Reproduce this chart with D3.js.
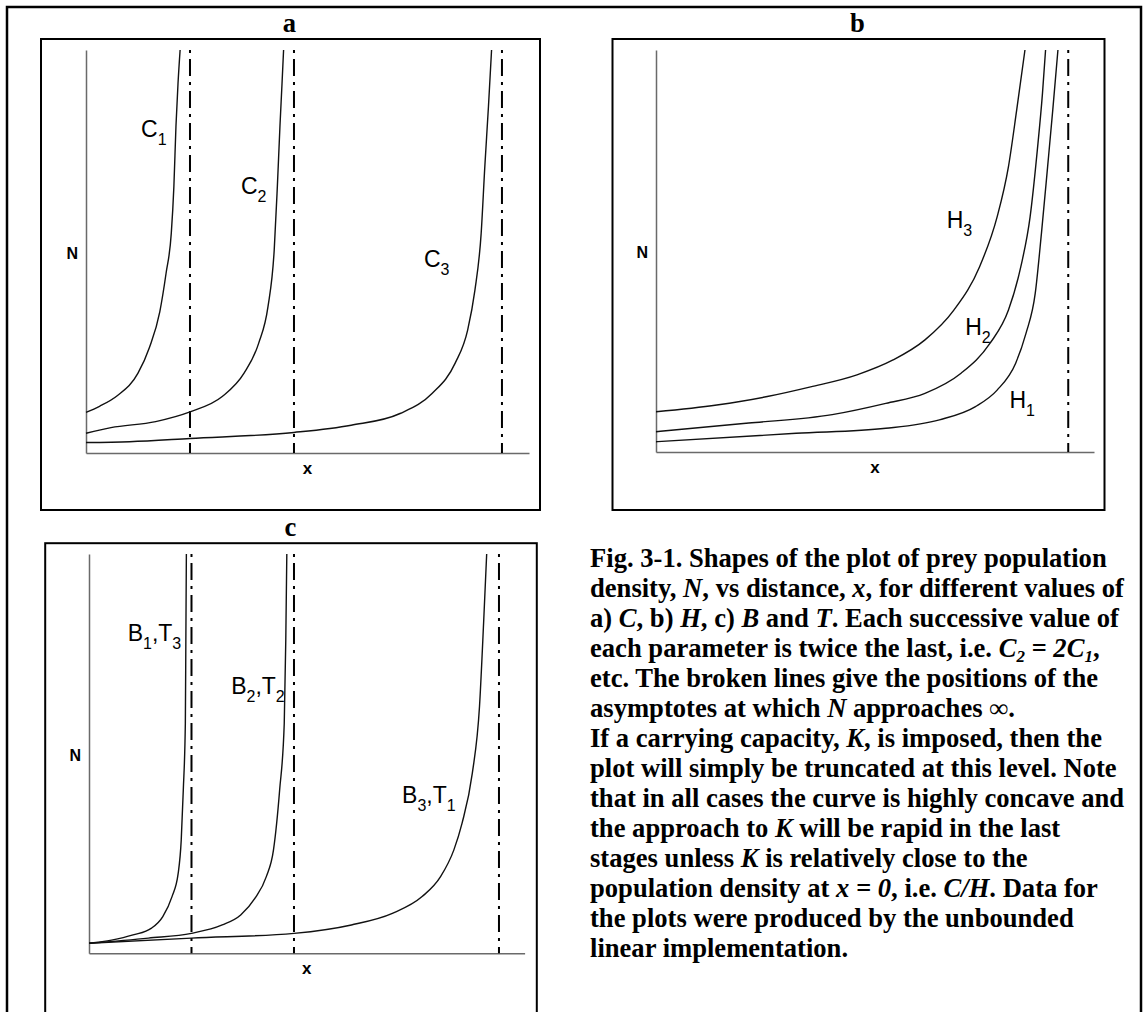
<!DOCTYPE html>
<html>
<head>
<meta charset="utf-8">
<script src="https://cdn.jsdelivr.net/npm/d3@7"></script>
<style>
  body { margin: 0; background: #fff; }
</style>
</head>
<body>
<div id="fig"></div>
<script>
// curve points: [x, N]
// x in units of the first asymptote, N in percent of the axis height
var curveC1 = [[0,10.1],[0.13,11.6],[0.30,14.2],[0.50,19.8],[0.61,26.2],[0.71,35.1],[0.77,44.6],[0.82,54.5],[0.845,66.1],[0.865,81.0],[0.885,91.8],[0.905,100]];
var curveC2 = [[0,4.9],[0.24,6.3],[0.67,7.8],[1.0,10.2],[1.31,14.0],[1.52,19.8],[1.66,27.2],[1.75,36.3],[1.81,50.4],[1.84,66.1],[1.865,81],[1.885,91.7],[1.90,100]];
var curveC3 = [[0,2.6],[0.42,2.8],[1.0,3.6],[2.0,5.1],[2.55,6.9],[3.02,9.8],[3.33,14.8],[3.55,22.3],[3.67,30.5],[3.74,40.4],[3.80,54.5],[3.835,71.0],[3.87,85.9],[3.90,100]];

var curveH3 = [[0,10.0],[0.59,11.7],[1.08,13.8],[1.50,16.2],[1.95,19.2],[2.30,22.9],[2.61,27.9],[2.89,35.3],[3.14,46.1],[3.31,58.5],[3.42,71.0],[3.50,85.1],[3.58,100]];
var curveH2 = [[0,5.05],[0.90,7.2],[1.71,9.3],[2.23,12.1],[2.61,14.6],[2.96,19.6],[3.24,27.0],[3.42,35.3],[3.54,46.1],[3.63,58.5],[3.70,75.1],[3.75,89.2],[3.78,100]];
var curveH1 = [[0,2.56],[1.36,4.65],[2.23,5.9],[2.75,8.0],[3.10,11.3],[3.31,15.4],[3.49,22.1],[3.59,29.5],[3.68,39.5],[3.74,54.4],[3.80,71.0],[3.85,85.1],[3.90,100]];

var curveB1T3 = [[0,2.5],[0.22,3.3],[0.43,4.6],[0.61,6.3],[0.72,9.2],[0.81,14.2],[0.87,20.0],[0.90,28.4],[0.92,40.9],[0.94,57.6],[0.945,78.5],[0.95,100]];
var curveB2T2 = [[0,2.5],[0.58,3.8],[1.0,5.0],[1.30,7.1],[1.48,9.6],[1.62,13.8],[1.73,19.2],[1.80,25.9],[1.86,40.9],[1.905,57.6],[1.92,78.5],[1.93,100]];
var curveB3T1 = [[0,2.5],[1.0,3.8],[2.0,5.0],[2.56,7.1],[2.96,10.0],[3.25,14.2],[3.43,19.2],[3.56,25.9],[3.64,32.6],[3.74,45.1],[3.81,61.8],[3.85,82.7],[3.88,100]];

// asymptote positions
var asymA = [1, 2, 4];
var asymB = [4];
var asymC = [1, 2, 4];

// curve labels: main letter(s) and subscripts, anchored in data units
var labelsA = [
  {parts: [["C", "1"]], x: 0.53, n: 78.3},
  {parts: [["C", "2"]], x: 1.49, n: 64.2},
  {parts: [["C", "3"]], x: 3.25, n: 46.2}
];
var labelsB = [
  {parts: [["H", "3"]], x: 2.82, n: 55.6},
  {parts: [["H", "2"]], x: 3.00, n: 29.1},
  {parts: [["H", "1"]], x: 3.43, n: 10.9}
];
var labelsC = [
  {parts: [["B", "1"], ["T", "3"]], x: 0.377, n: 78.3},
  {parts: [["B", "2"], ["T", "2"]], x: 1.387, n: 64.9},
  {parts: [["B", "3"], ["T", "1"]], x: 3.055, n: 37.7}
];

// caption lines: [text, style] with style 0 = bold, 1 = bold italic, 2 = italic subscript
var caption = [
  [["Fig. 3-1. Shapes of the plot of prey population", 0]],
  [["density, ", 0], ["N", 1], [", vs distance, ", 0], ["x", 1], [", for different values of", 0]],
  [["a) ", 0], ["C", 1], [", b) ", 0], ["H", 1], [", c) ", 0], ["B", 1], [" and ", 0], ["T", 1], [". Each successive value of", 0]],
  [["each parameter is twice the last, i.e. ", 0], ["C", 1], ["2", 2], [" = 2C", 1], ["1", 2], [",", 0]],
  [["etc. The broken lines give the positions of the", 0]],
  [["asymptotes at which ", 0], ["N", 1], [" approaches \u221e.", 0]],
  [["If a carrying capacity, ", 0], ["K", 1], [", is imposed, then the", 0]],
  [["plot will simply be truncated at this level. Note", 0]],
  [["that in all cases the curve is highly concave and", 0]],
  [["the approach to ", 0], ["K", 1], [" will be rapid in the last", 0]],
  [["stages unless ", 0], ["K", 1], [" is relatively close to the", 0]],
  [["population density at ", 0], ["x = 0", 1], [", i.e. ", 0], ["C/H", 1], [". Data for", 0]],
  [["the plots were produced by the unbounded", 0]],
  [["linear implementation.", 0]]
];

var width = 1144, height = 1012;
var serif = "'Liberation Serif', 'Times New Roman', serif";
var sans = "'Liberation Sans', Arial, sans-serif";

var svg = d3.select("#fig")
    .append("svg")
    .attr("width", width)
    .attr("height", height);

// outer frame, open at the bottom of the page
svg.append("rect")
    .attr("x", 7).attr("y", 7)
    .attr("width", 1134).attr("height", 1100)
    .attr("fill", "none")
    .attr("stroke", "#000")
    .attr("stroke-width", 2.5);

var panels = [
  {title: "a", tx: 289.5, ty: 32.3, box: [41, 39, 499, 471],
   left: 86, right: 529, bottom: 453, top: 50, xMax: 4.26,
   curves: [curveC1, curveC2, curveC3], asym: asymA, labels: labelsA},
  {title: "b", tx: 857.5, ty: 32.3, box: [612.5, 39, 492, 471],
   left: 656, right: 1094, bottom: 452, top: 50, xMax: 4.25,
   curves: [curveH1, curveH2, curveH3], asym: asymB, labels: labelsB},
  {title: "c", tx: 290.4, ty: 535.7, box: [45.2, 543.2, 491.6, 600],
   left: 89, right: 524.6, bottom: 953.3, top: 554, xMax: 4.25,
   curves: [curveB1T3, curveB2T2, curveB3T1], asym: asymC, labels: labelsC}
];

panels.forEach(function(p) {
  var g = svg.append("g");

  g.append("text")
      .attr("x", p.tx).attr("y", p.ty)
      .attr("text-anchor", "middle")
      .attr("font-family", serif)
      .attr("font-weight", "bold")
      .attr("font-size", 26.6)
      .text(p.title);

  g.append("rect")
      .attr("x", p.box[0]).attr("y", p.box[1])
      .attr("width", p.box[2]).attr("height", p.box[3])
      .attr("fill", "none")
      .attr("stroke", "#000")
      .attr("stroke-width", 2);

  var x = d3.scaleLinear().domain([0, p.xMax]).range([p.left, p.right]);
  var y = d3.scaleLinear().domain([0, 100]).range([p.bottom, p.top]);

  // axes without ticks
  g.append("g")
      .attr("transform", "translate(0," + p.bottom + ")")
      .call(d3.axisBottom(x).tickValues([]).tickSizeOuter(0))
      .select(".domain").attr("stroke", "#6a6a6a").attr("stroke-width", 1.5);
  g.append("g")
      .attr("transform", "translate(" + p.left + ",0)")
      .call(d3.axisLeft(y).tickValues([]).tickSizeOuter(0))
      .select(".domain").attr("stroke", "#6a6a6a").attr("stroke-width", 1.5);

  // broken asymptote lines
  g.selectAll(".asym")
      .data(p.asym)
      .enter()
      .append("line")
      .attr("x1", function(d) { return x(d); })
      .attr("x2", function(d) { return x(d); })
      .attr("y1", y(100))
      .attr("y2", y(0))
      .attr("stroke", "#000")
      .attr("stroke-width", 2)
      .attr("stroke-dasharray", "3,6,17,6");

  var line = d3.line()
      .x(function(d) { return x(d[0]); })
      .y(function(d) { return y(d[1]); })
      .curve(d3.curveMonotoneX);

  g.selectAll(".curve")
      .data(p.curves)
      .enter()
      .append("path")
      .attr("d", line)
      .attr("fill", "none")
      .attr("stroke", "#111")
      .attr("stroke-width", 1.4);

  // curve labels
  p.labels.forEach(function(l) {
    var t = g.append("text")
        .attr("x", x(l.x)).attr("y", y(l.n))
        .attr("font-family", sans)
        .attr("font-size", 23);
    l.parts.forEach(function(part, i) {
      if (i > 0) t.append("tspan").attr("dy", -8).text(",");
      t.append("tspan").text(part[0]);
      t.append("tspan").attr("dy", 8).attr("font-size", 16).text(part[1]);
    });
  });

  // axis names
  g.append("text")
      .attr("x", p.left - 8).attr("y", (p.top + p.bottom) / 2 + 7)
      .attr("text-anchor", "end")
      .attr("font-family", sans).attr("font-weight", "bold").attr("font-size", 16)
      .text("N");
  g.append("text")
      .attr("x", (p.left + p.right) / 2).attr("y", p.bottom + 21)
      .attr("text-anchor", "middle")
      .attr("font-family", sans).attr("font-weight", "bold").attr("font-size", 17)
      .text("x");
});

// caption, one text per line
caption.forEach(function(segs, i) {
  var base = 566.7 + i * 30;
  var t = svg.append("text")
      .attr("x", 590).attr("y", base)
      .attr("font-family", serif)
      .attr("font-weight", "bold")
      .attr("font-size", 26.6);
  var low = false;
  segs.forEach(function(s) {
    var ts = t.append("tspan").text(s[0]);
    if (s[1] === 2) {
      ts.attr("font-style", "italic").attr("font-size", 17).attr("dy", low ? 0 : 5);
      low = true;
    } else {
      if (low) { ts.attr("dy", -5); low = false; }
      if (s[1] === 1) ts.attr("font-style", "italic");
    }
  });
});
</script>
</body>
</html>
